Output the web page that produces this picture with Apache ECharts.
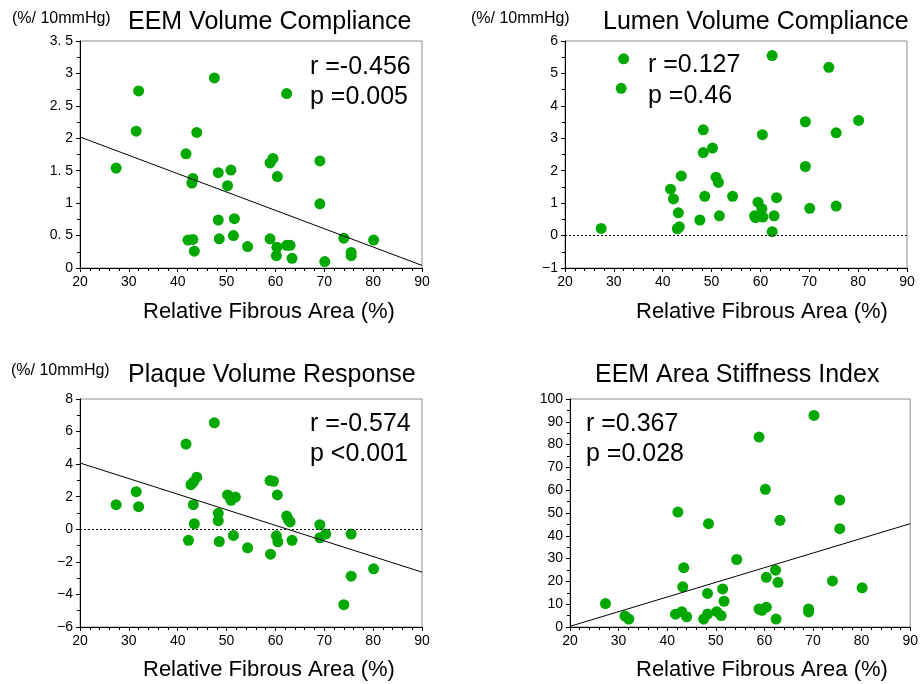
<!DOCTYPE html>
<html><head><meta charset="utf-8">
<script src="https://cdn.jsdelivr.net/npm/echarts@6/dist/echarts.min.js"></script>
<style>html,body{margin:0;padding:0;background:#fff}#c{width:921px;height:684px}</style>
</head><body><div id="c"></div>
<script>
// Panel 1: EEM Volume Compliance
const eemX = [27.4,32.0,31.5,47.5,62.3,43.9,41.7,43.1,42.9,48.3,50.9,50.2,58.9,59.5,60.4,69.1,69.1,48.3,51.6,42.1,43.1,43.4,48.5,51.4,54.3,58.9,60.3,60.2,62.3,63.0,63.4,70.1,74.0,75.5,75.5,80.1];
const eemY = [1.54,2.73,2.11,2.93,2.69,2.09,1.76,1.38,1.31,1.47,1.51,1.27,1.62,1.69,1.41,1.65,0.99,0.74,0.76,0.43,0.44,0.26,0.45,0.50,0.33,0.45,0.32,0.19,0.35,0.35,0.15,0.10,0.46,0.24,0.19,0.43];
const eemFit = [[20,2.02],[90,0.04]];
// Panel 2: Lumen Volume Compliance
const lumenX = [27.4,32.0,31.5,62.4,74.0,69.2,80.1,75.5,60.4,48.3,50.2,48.3,69.2,43.8,50.9,51.4,41.6,42.2,48.6,54.3,63.3,59.5,60.3,70.1,75.5,43.2,51.6,58.8,60.5,62.8,47.6,43.4,43.0,62.4,59.0];
const lumenY = [0.22,5.45,4.54,5.55,5.19,3.51,3.55,3.17,3.11,3.26,2.70,2.56,2.13,1.84,1.80,1.64,1.43,1.13,1.21,1.21,1.17,1.03,0.83,0.84,0.91,0.70,0.61,0.61,0.57,0.61,0.48,0.27,0.21,0.12,0.55];
// Panel 3: Plaque Volume Response
const plaqueX = [27.4,31.5,32.0,47.5,41.7,43.9,43.2,42.7,43.2,43.4,42.2,48.3,48.3,48.5,50.2,50.9,51.8,51.4,54.3,58.9,59.6,60.4,59.0,60.2,60.5,62.3,62.6,63.0,63.4,69.1,69.1,70.3,75.5,75.5,74.0,80.1];
const plaqueY = [1.51,2.31,1.39,6.54,5.23,3.20,2.89,2.74,1.51,0.34,-0.68,0.98,0.53,-0.75,2.11,1.78,1.98,-0.38,-1.14,2.99,2.95,2.11,-1.53,-0.40,-0.77,0.81,0.61,0.45,-0.68,0.28,-0.52,-0.29,-0.29,-2.88,-4.63,-2.43];
const plaqueFit = [[20,4.07],[90,-2.63]];
// Panel 4: EEM Area Stiffness Index
const stiffX = [27.3,31.3,32.1,70.2,58.9,60.2,42.2,48.5,75.5,63.2,75.5,54.3,43.4,62.3,60.4,62.8,74.0,80.1,43.2,48.3,51.4,51.7,41.7,43.0,44.0,47.5,48.3,50.2,51.1,58.9,59.5,60.4,62.4,69.1,69.1];
const stiffY = [10.3,4.8,3.5,92.8,83.3,60.4,50.4,45.3,55.7,46.8,43.1,29.6,26.0,24.9,21.8,19.6,20.2,17.2,17.6,14.7,16.7,11.3,5.6,6.7,4.5,3.5,5.7,6.7,5.0,7.9,7.3,8.7,3.5,7.9,6.6];
const stiffFit = [[20,0.3],[90,45.3]];

const titles = ['EEM Volume Compliance','Lumen Volume Compliance','Plaque Volume Response','EEM Area Stiffness Index'];
const stats = [['r =-0.456','p =0.005'],['r =0.127','p =0.46'],['r =-0.574','p <0.001'],['r =0.367','p =0.028']];
const unitLabel = '(%/ 10mmHg)';
const xName = 'Relative Fibrous Area (%)';
const yRanges = [[0,3.5,0.5],[-1,6,1],[-6,8,2],[0,100,10]];

const pairs = (xs, ys) => xs.map((x, i) => [x, ys[i]]);
const GREEN = '#00a800';
const FONT = '"Liberation Sans", Arial, sans-serif';
const TICKFONT = '"Liberation Sans Narrow", "Liberation Sans", sans-serif';
const grids = [
  {left:80, top:41, width:342, height:227},
  {left:565, top:41, width:342, height:227},
  {left:80, top:399, width:342, height:228},
  {left:570, top:399, width:342, height:228}
];
const fmtY = v => {
  let s = String(Math.round(v*100)/100);
  s = s.replace('-', '\u2212').replace('.', '. ');
  return s;
};
const xAxes = grids.map((g, i) => ({
  type:'value', gridIndex:i, min:20, max:90, interval:10,
  axisLine:{show:true, onZero:false, lineStyle:{color:'#000', width:1}},
  axisTick:{show:true, length:4, lineStyle:{color:'#000'}},
  minorTick:{show:true, splitNumber:5, length:3, lineStyle:{color:'#000'}},
  splitLine:{show:false},
  axisLabel:{color:'#000', fontSize:14, fontFamily:TICKFONT, margin:7}
}));
const yAxes = yRanges.map((r, i) => ({
  type:'value', gridIndex:i, min:r[0], max:r[1], interval:r[2],
  axisLine:{show:true, onZero:false, lineStyle:{color:'#000', width:1}},
  axisTick:{show:true, length:4, lineStyle:{color:'#000'}},
  minorTick:{show:true, splitNumber:2, length:3, lineStyle:{color:'#000'}},
  splitLine:{show:false},
  axisLabel:{color:'#000', fontSize:14, fontFamily:TICKFONT, margin:7, formatter:fmtY}
}));

const zeroLine = {silent:true, symbol:'none', label:{show:false},
  lineStyle:{color:'#000', type:[2,2], width:1}, data:[{yAxis:0}]};
const scatter = (i, data, withZero) => ({
  type:'scatter', xAxisIndex:i, yAxisIndex:i, data:data, symbolSize:11,
  itemStyle:{color:GREEN, opacity:1}, z:3,
  markLine: withZero ? zeroLine : undefined
});
const fitLine = (i, data) => ({
  type:'line', xAxisIndex:i, yAxisIndex:i, data:data, symbol:'none',
  lineStyle:{color:'#000', width:1}, z:4, silent:true
});

const series = [
  fitLine(0, eemFit), scatter(0, pairs(eemX, eemY), false),
  scatter(1, pairs(lumenX, lumenY), true),
  fitLine(2, plaqueFit), scatter(2, pairs(plaqueX, plaqueY), true),
  fitLine(3, stiffFit), scatter(3, pairs(stiffX, stiffY), false)
];

const txt = (x, y, text, size) => ({type:'text', x:x, y:y,
  style:{text:text, fill:'#000', font: size + 'px ' + FONT, verticalAlign:'middle', textVerticalAlign:'middle', align:'left'}, z:10});
const graphic = [
  txt(128, 22, titles[0], 25), txt(603, 22, titles[1], 25),
  txt(128, 375, titles[2], 25), txt(595, 375, titles[3], 25),
  txt(12, 19, unitLabel, 16), txt(471, 19, unitLabel, 16), txt(11, 371, unitLabel, 16),
  txt(310, 67, stats[0][0], 25), txt(310, 97, stats[0][1], 25),
  txt(648, 65, stats[1][0], 25), txt(648, 96, stats[1][1], 25),
  txt(310, 424, stats[2][0], 25), txt(310, 454, stats[2][1], 25),
  txt(586, 424, stats[3][0], 25), txt(586, 454, stats[3][1], 25),
  txt(143, 312, xName, 22), txt(636, 312, xName, 22),
  txt(143, 670, xName, 22), txt(636, 670, xName, 22)
];

const chart = echarts.init(document.getElementById('c'), null, {renderer:'canvas'});
chart.setOption({
  animation:false,
  backgroundColor:'#fff',
  grid: grids.map(g => Object.assign({show:true, borderColor:'#8c8c8c', borderWidth:1, backgroundColor:'transparent'}, g)),
  xAxis: xAxes, yAxis: yAxes, series: series, graphic: graphic
});
</script></body></html>
